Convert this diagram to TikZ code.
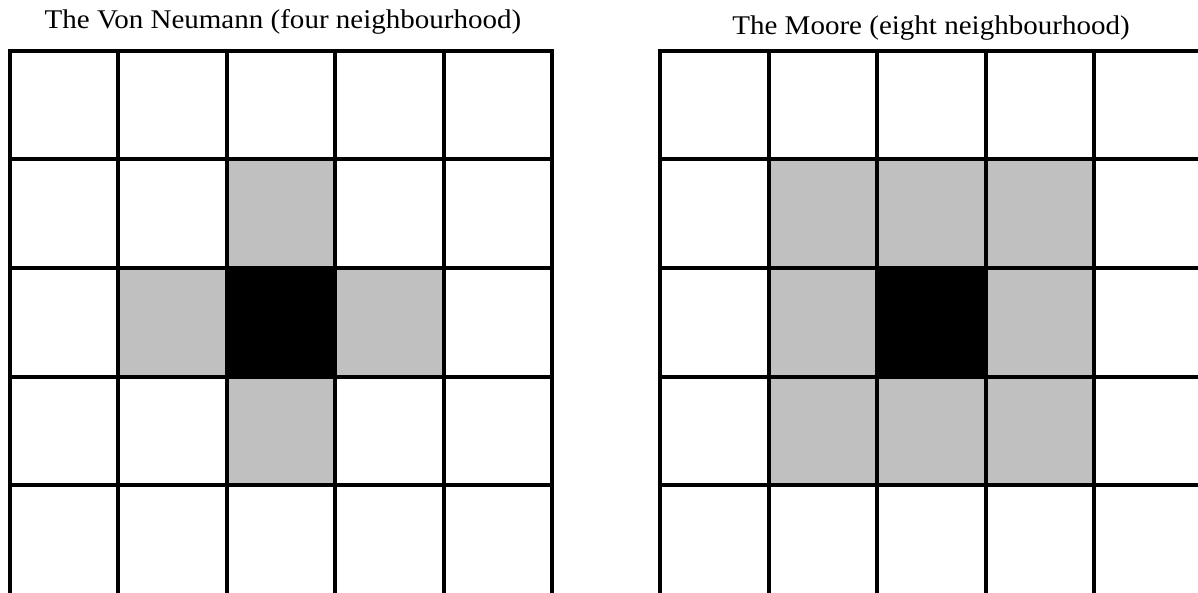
\documentclass[tikz,border=0pt]{standalone}
\usepackage{fontspec}
\setmainfont{Liberation Serif}
\definecolor{cellgray}{HTML}{C0C0C0}
\tikzset{
  gridline/.style={line width=4pt, black, line cap=rect},
  nbcell/.style={fill=cellgray, draw=none},
  centercell/.style={fill=black, draw=none},
  titletext/.style={anchor=base, inner sep=0pt, font=\fontsize{27}{32}\selectfont}
}
\begin{document}
\begin{tikzpicture}[x=1pt,y=-1pt]
\useasboundingbox (0,0) rectangle (1198,593);
\def\cs{108.5}
\def\gy{51}
% left grid (Von Neumann)
\def\lx{9.5}
\fill[nbcell] (\lx+2*\cs,\gy+1*\cs) rectangle ++(\cs,\cs);
\fill[nbcell] (\lx+1*\cs,\gy+2*\cs) rectangle ++(\cs,\cs);
\fill[nbcell] (\lx+3*\cs,\gy+2*\cs) rectangle ++(\cs,\cs);
\fill[nbcell] (\lx+2*\cs,\gy+3*\cs) rectangle ++(\cs,\cs);
\fill[centercell] (\lx+2*\cs,\gy+2*\cs) rectangle ++(\cs,\cs);
\foreach \i in {0,...,5} {
  \draw[gridline] (\lx+\i*\cs,\gy) -- (\lx+\i*\cs,600);
}
\foreach \j in {0,...,4} {
  \draw[gridline] (\lx,\gy+\j*\cs) -- (\lx+5*\cs,\gy+\j*\cs);
}
% right grid (Moore)
\def\rx{660}
\foreach \i in {1,2,3} {
  \foreach \j in {1,2,3} {
    \fill[nbcell] (\rx+\i*\cs,\gy+\j*\cs) rectangle ++(\cs,\cs);
  }
}
\fill[centercell] (\rx+2*\cs,\gy+2*\cs) rectangle ++(\cs,\cs);
\foreach \i in {0,...,5} {
  \draw[gridline] (\rx+\i*\cs,\gy) -- (\rx+\i*\cs,600);
}
\foreach \j in {0,...,4} {
  \draw[gridline] (\rx,\gy+\j*\cs) -- (\rx+5*\cs,\gy+\j*\cs);
}
% titles
\node[titletext] (lefttitle) at (283,29) {\scalebox{1.075}[1]{The Von Neumann (four neighbourhood)}};
\node[titletext] (righttitle) at (931,35) {\scalebox{1.075}[1]{The Moore (eight neighbourhood)}};
\end{tikzpicture}
\end{document}
